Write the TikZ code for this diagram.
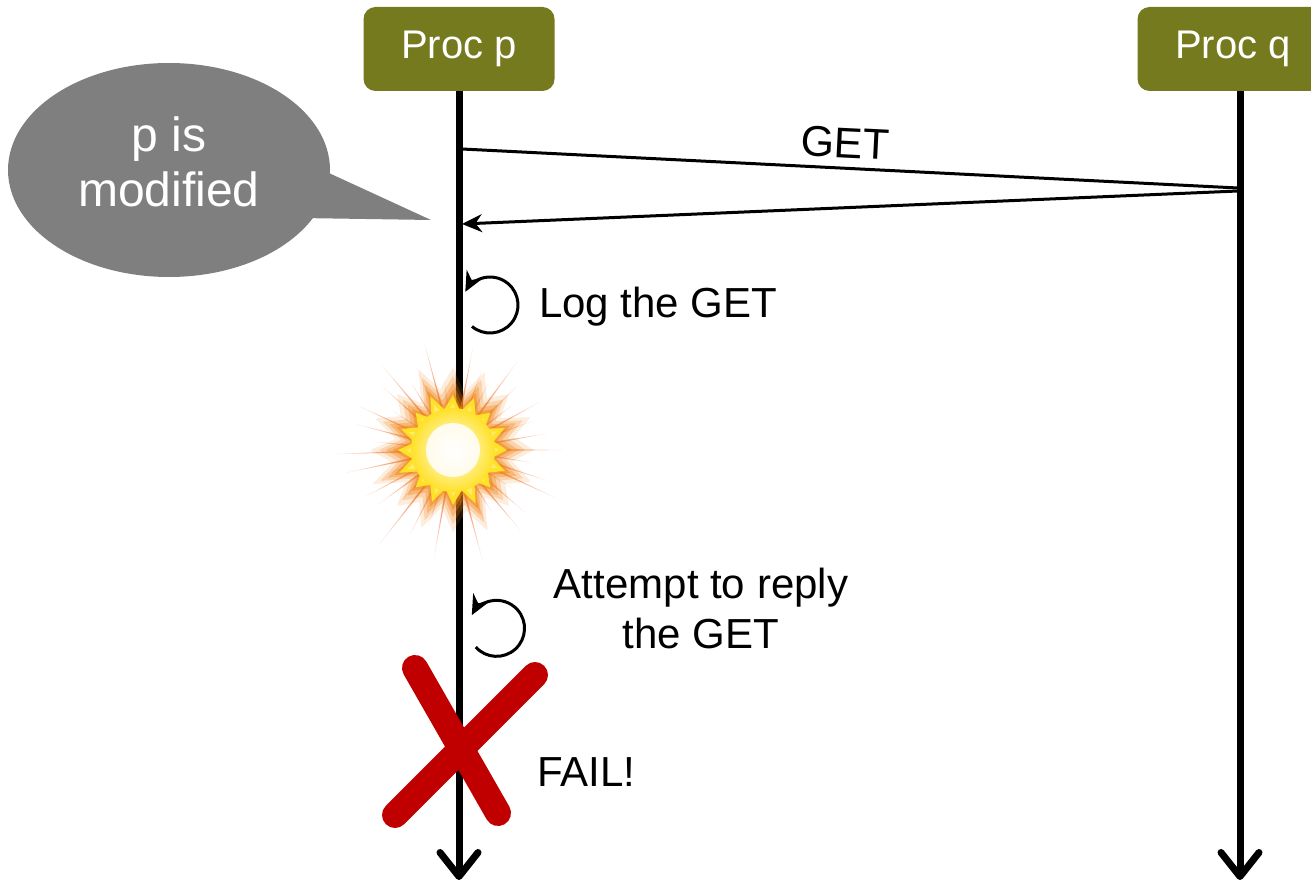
\documentclass[tikz,border=0pt]{standalone}
\usepackage{fontspec}
\setmainfont{Liberation Sans}
\usetikzlibrary{arrows.meta,shapes.geometric}
\definecolor{procolive}{RGB}{118,122,30}
\definecolor{bubblegray}{RGB}{127,127,127}
\definecolor{failred}{RGB}{192,0,0}
\definecolor{rayorange}{RGB}{236,100,28}
\definecolor{boomyellow}{RGB}{255,225,40}

\begin{document}
\begin{tikzpicture}[x=1pt,y=-1pt,
  procbox/.style={fill=procolive, rounded corners=12pt, minimum width=191pt,
    minimum height=84pt, text=white, font=\fontsize{40}{48}\selectfont, inner sep=0pt},
  lifeline/.style={line width=7pt, -{Straight Barb[length=24pt,width=38pt,round]}},
  msg/.style={line width=3pt},
  msgarrow/.style={msg, -{Stealth[length=20pt,width=18pt]}},
  selfloop/.style={line width=3pt, -{Stealth[length=20pt,width=18pt]}},
  lbl/.style={font=\fontsize{42}{50}\selectfont, align=center, inner sep=0pt},
  bubbletext/.style={font=\fontsize{48}{55}\selectfont, text=white, align=center},
  failx/.style={failred, line width=26pt, line cap=round},
  starpath/.style={insert path={(0:48) \foreach \a/\r in {
      11/36,22/50,33/37,45/47,56/34,67/52,78/37,90/49,101/35,112/50,123/37,135/47,
      146/34,157/52,168/37,180/49,191/35,202/50,213/37,225/47,236/34,247/52,
      258/37,270/49,281/35,292/50,303/37,315/47,326/34,337/50,348/37} { -- (\a:\r) } -- cycle}},
]
\useasboundingbox (0,0) rectangle (1311,882);

% process headers
\node[procbox] (pp) at (459,49) {Proc p};
\node[procbox] (pq) at (1233,49) {Proc q};

% lifelines
\coordinate (pend) at (459,880);
\coordinate (qend) at (1240,880);
\draw[lifeline] (pp.south) -- (pend);
\draw[lifeline] (pq.south -| qend) -- (qend);

% GET request and its answer
\coordinate (getout) at (462,149);
\coordinate (getq) at (1238,188);
\coordinate (getqb) at (1238,191);
\coordinate (getin) at (462,224);
\draw[msg] (getout) -- node[sloped, above=5pt, font=\fontsize{43}{48}\selectfont, xshift=-6pt] {GET} (getq);
\draw[msgarrow] (getqb) -- (getin);

% speech bubble
\node[ellipse, fill=bubblegray, minimum width=322pt, minimum height=214pt, inner sep=0pt] (bubble) at (169,170) {};
\coordinate (tailtip) at (431,220);
\fill[bubblegray] (318,168) -- (tailtip) -- (300,218) -- cycle;
\node[bubbletext] (bubbletxt) at (169,162) {p is\\modified};

% logging the request
\coordinate (logc) at (490,305);
\draw[selfloop] (logc) ++(130:28) arc[start angle=130, end angle=-152, radius=28];
\node[lbl, anchor=west] (logtxt) at (539,307) {Log the GET};

% crash
\coordinate (boom) at (453,450);
\begin{scope}[shift={(boom)}]
  \foreach \a/\l in {0/110,9/80,18/100,25/115,33/70,41/95,50/105,58/75,66/88,75/115,
      82/70,90/65,100/110,108/80,117/95,128/120,136/78,144/92,152/100,160/70,
      168/110,178/118,186/80,195/100,205/105,213/72,222/95,230/110,238/80,
      246/90,255/112,263/70,272/90,281/104,290/85,298/75,306/110,315/90,
      323/75,331/100,340/85,350/95}{
    \foreach \f/\o in {1/0.2,0.85/0.25,0.7/0.3,0.55/0.35,0.42/0.4}{
      \fill[rayorange, opacity=\o] (\a-4.5:20) -- (\a:\l*\f) -- (\a+4.5:20) -- cycle;
    }
  }
  % soft orange halo around the flash
  \begin{scope}[scale=1.12]
    \foreach \s/\o in {1.5/0.15,1.35/0.25,1.22/0.35,1.1/0.5}{
      \fill[rayorange!80!yellow, opacity=\o, scale=\s, starpath];
    }
    \fill[boomyellow, starpath];
    \fill[boomyellow!70!white, scale=0.85, starpath];
  \end{scope}
  \shade[inner color=white, outer color=boomyellow] (0,0) circle (42);
  \fill[white, opacity=0.85] (0,0) circle (27);
\end{scope}

% reply attempt
\coordinate (replyc) at (498,627);
\draw[selfloop] (replyc) ++(138:30) arc[start angle=138, end angle=-152, radius=28];
\node[lbl] (replytxt) at (701,608) {Attempt to reply\\the GET};

% failure mark
\coordinate (xa) at (415,668);
\coordinate (xb) at (498,813);
\coordinate (xc) at (535,675);
\coordinate (xd) at (395,815);
\draw[failx] (xa) -- (xb);
\draw[failx] (xc) -- (xd);
\node[lbl, anchor=west] (failtxt) at (537,772) {FAIL!};
\end{tikzpicture}
\end{document}
